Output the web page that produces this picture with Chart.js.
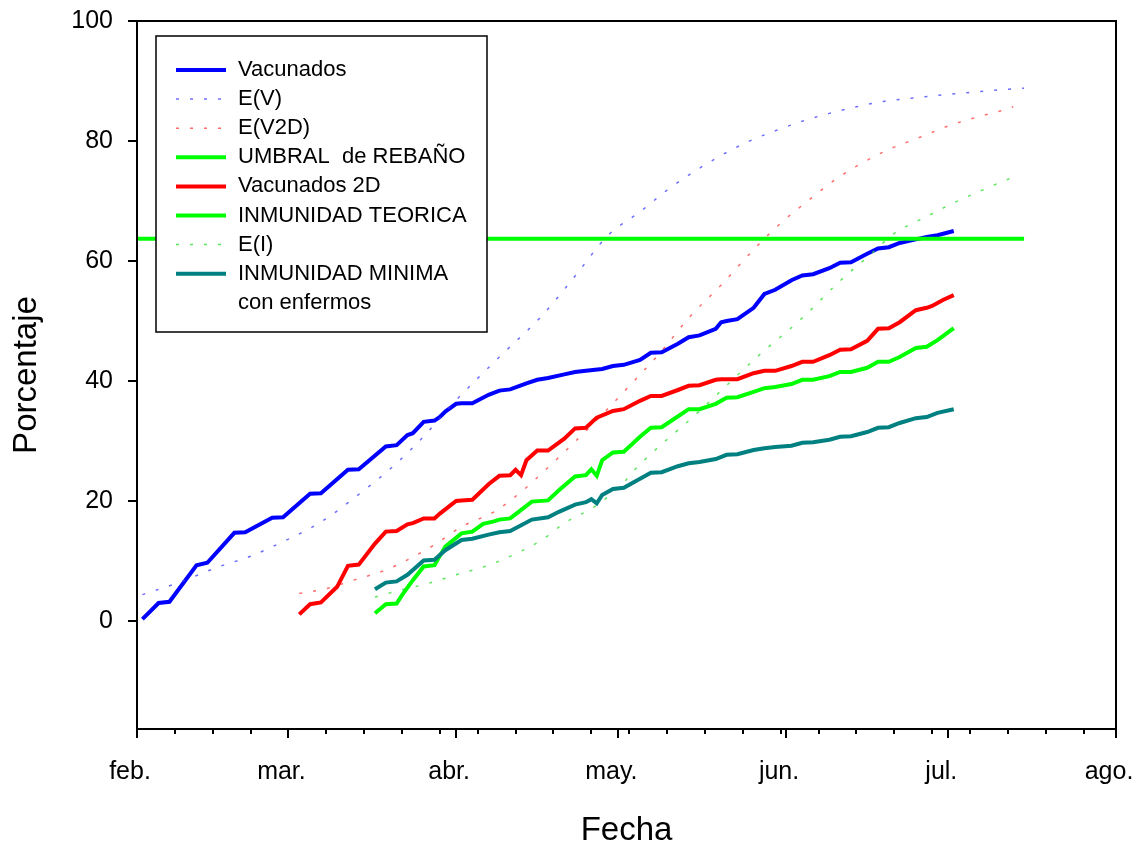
<!DOCTYPE html>
<html lang="es">
<head>
<meta charset="utf-8">
<title>Vacunación e inmunidad</title>
<script src="https://cdn.jsdelivr.net/npm/chart.js@4.4.1/dist/chart.umd.min.js"></script>
<style>
  html, body { margin: 0; padding: 0; background: #fff; }
</style>
</head>
<body>
<canvas id="grafico" width="1140" height="846"></canvas>
<script>
"use strict";
// Eje X en días contados desde el 1 de febrero de 2021
const MESES = ['feb.', 'mar.', 'abr.', 'may.', 'jun.', 'jul.', 'ago.'];
const INICIO_MES = [0, 28, 59, 89, 120, 150, 181];
const TICKS_Y = [0, 20, 40, 60, 80, 100];

const diasVacunados = [1, 4, 6, 11, 13, 18, 20, 25, 27, 32, 34, 39, 41, 46, 48, 50, 51, 53, 55, 56,
  57, 59, 60, 62, 65, 67, 69, 72, 74, 76, 79, 81, 83, 86, 88, 90, 93, 95, 97, 100,
  102, 104, 107, 108, 109, 111, 114, 116, 118, 121, 123, 125, 128, 130, 132, 135, 137, 139, 141, 144,
  146, 148, 151];
const vacunados = [0.3, 3.0, 3.2, 9.3, 9.7, 14.7, 14.8, 17.2, 17.3, 21.2, 21.3, 25.2, 25.3, 29.1, 29.3, 31.0, 31.3, 33.2, 33.4, 34.0,
  34.9, 36.2, 36.3, 36.3, 37.7, 38.4, 38.6, 39.6, 40.2, 40.5, 41.1, 41.5, 41.7, 42.0, 42.5, 42.7, 43.5, 44.7, 44.8, 46.2,
  47.3, 47.6, 48.7, 49.8, 50.0, 50.3, 52.2, 54.5, 55.2, 56.8, 57.6, 57.8, 58.8, 59.7, 59.8, 61.2, 62.1, 62.3, 63.0, 63.6,
  64.0, 64.3, 65.0];

const diasEV = [1, 8, 15, 21, 26, 34, 42, 47, 52, 59, 67, 75, 81, 87, 93, 98, 103, 108, 113, 118,
  123, 128, 133, 138, 144, 149, 154, 159, 164];
const eV = [4.4, 6.5, 9.0, 10.8, 12.8, 16.5, 21.8, 25.5, 29.8, 36.8, 44.0, 51.0, 57.5, 64.2, 68.2, 71.8, 74.9, 77.6, 79.9, 81.7,
  83.3, 84.6, 85.7, 86.6, 87.2, 87.7, 88.1, 88.5, 88.8];

const diasEV2D = [30, 35, 40, 46, 50, 55, 60, 66, 71, 76, 81, 86, 90, 97, 102, 108, 114, 119, 124, 129,
  134, 139, 145, 150, 155, 160, 162];
const eV2D = [4.6, 5.4, 6.8, 8.5, 10.2, 12.7, 15.7, 18.2, 21.5, 25.6, 29.9, 34.4, 38.2, 45.0, 50.5, 56.0, 61.9, 66.3, 70.0, 73.5,
  76.3, 78.6, 80.7, 82.5, 83.9, 85.1, 85.7];

const diasUmbral = [0, 164];
const umbral = [63.7, 63.7];

const diasVac2D = [30, 32, 34, 37, 39, 41, 44, 46, 48, 50, 51, 53, 55, 56, 59, 60, 62, 65, 67, 69,
  70, 71, 72, 74, 76, 79, 81, 83, 85, 88, 90, 93, 95, 97, 100, 102, 104, 107, 108, 111,
  114, 116, 118, 121, 123, 125, 128, 130, 132, 135, 137, 139, 141, 144, 146, 147, 149, 151];
const vacunados2D = [1.1, 2.8, 3.1, 5.7, 9.2, 9.4, 12.9, 14.9, 15.0, 16.1, 16.3, 17.1, 17.1, 17.9, 20.0, 20.1, 20.2, 22.8, 24.2, 24.3,
  25.2, 24.3, 26.8, 28.4, 28.4, 30.4, 32.1, 32.2, 33.9, 35.0, 35.3, 36.7, 37.5, 37.5, 38.5, 39.2, 39.3, 40.2, 40.3, 40.3,
  41.3, 41.7, 41.7, 42.5, 43.2, 43.2, 44.3, 45.2, 45.3, 46.7, 48.7, 48.8, 49.8, 51.8, 52.2, 52.5, 53.5, 54.3];

const diasTeorica = [44, 46, 48, 49, 51, 53, 55, 57, 60, 62, 64, 66, 67, 69, 73, 76, 78, 81, 83, 84,
  85, 86, 88, 90, 93, 95, 97, 99, 102, 104, 107, 109, 111, 114, 116, 118, 121, 123, 125, 128,
  130, 132, 135, 137, 139, 141, 144, 146, 148, 151];
const inmunidadTeorica = [1.3, 2.8, 2.9, 4.3, 6.8, 9.1, 9.3, 12.4, 14.6, 14.9, 16.2, 16.6, 16.9, 17.1, 19.9, 20.1, 21.8, 24.1, 24.3, 25.3,
  24.2, 26.8, 28.1, 28.2, 30.7, 32.2, 32.3, 33.5, 35.3, 35.3, 36.2, 37.2, 37.3, 38.2, 38.8, 39.0, 39.5, 40.2, 40.2, 40.8,
  41.5, 41.5, 42.2, 43.2, 43.2, 44.0, 45.5, 45.7, 46.8, 48.8];

const diasEI = [44, 49, 54, 59, 65, 70, 75, 79, 85, 90, 92, 104, 115, 123, 130, 136, 140, 146, 151, 156,
  161, 163];
const eI = [4.0, 5.2, 6.3, 7.7, 9.3, 11.2, 13.6, 16.3, 19.3, 23.1, 25.2, 35.0, 44.3, 50.5, 56.7, 61.4, 64.6, 67.4, 69.7, 71.7,
  73.6, 74.2];

const diasMinima = [44, 46, 48, 50, 53, 55, 57, 60, 62, 65, 67, 69, 73, 76, 78, 81, 83, 84, 85, 86,
  88, 90, 93, 95, 97, 100, 102, 104, 107, 109, 111, 114, 116, 118, 121, 123, 125, 128, 130, 132,
  135, 137, 139, 141, 144, 146, 148, 151];
const inmunidadMinima = [5.3, 6.4, 6.6, 7.7, 10.1, 10.2, 11.8, 13.5, 13.7, 14.4, 14.8, 15.0, 16.9, 17.3, 18.2, 19.4, 19.8, 20.3, 19.6, 21.0,
  22.0, 22.2, 23.7, 24.7, 24.8, 25.8, 26.3, 26.5, 27.0, 27.7, 27.8, 28.5, 28.8, 29.0, 29.2, 29.7, 29.8, 30.2, 30.7, 30.8,
  31.5, 32.2, 32.3, 33.0, 33.8, 34.0, 34.7, 35.3];

const FUENTE = "'Liberation Sans', Arial, sans-serif";
const PUNTEADO = [3, 11];

function puntos(dias, valores) {
  return dias.map((d, i) => ({ x: d, y: valores[i] }));
}

function serie(label, dias, valores, color, punteada) {
  return {
    label: label,
    data: puntos(dias, valores),
    borderColor: color,
    borderWidth: punteada ? 1.5 : 4,
    borderDash: punteada ? PUNTEADO : [],
    cubicInterpolationMode: punteada ? 'monotone' : 'default',
    tension: 0,
    pointRadius: 0,
    fill: false
  };
}

const datasets = [
  serie('Vacunados', diasVacunados, vacunados, '#0000ff', false),
  serie('E(V)', diasEV, eV, 'rgba(60,60,255,0.75)', true),
  serie('E(V2D)', diasEV2D, eV2D, 'rgba(255,60,60,0.75)', true),
  serie('UMBRAL  de REBAÑO', diasUmbral, umbral, '#00ff00', false),
  serie('Vacunados 2D', diasVac2D, vacunados2D, '#ff0000', false),
  serie('INMUNIDAD TEORICA', diasTeorica, inmunidadTeorica, '#00ff00', false),
  serie('E(I)', diasEI, eI, 'rgba(40,220,40,0.75)', true),
  serie(['INMUNIDAD MINIMA', 'con enfermos'], diasMinima, inmunidadMinima, '#008080', false)
];
// las series posteriores se dibujan encima
datasets.forEach((ds, i) => { ds.order = datasets.length - i; });

// marco completo y marcas de los ejes (mayores en cada mes, menores cada semana)
const marcoPlugin = {
  id: 'marco',
  afterDraw(chart) {
    const { ctx, chartArea: a, scales: { x, y } } = chart;
    ctx.save();
    ctx.strokeStyle = '#000';
    ctx.lineWidth = 2;
    ctx.strokeRect(a.left, a.top, a.right - a.left, a.bottom - a.top);
    ctx.beginPath();
    x.ticks.forEach(t => {
      const px = Math.round(x.getPixelForValue(t.value));
      const largo = INICIO_MES.includes(t.value) ? 9 : 5;
      ctx.moveTo(px, a.bottom);
      ctx.lineTo(px, a.bottom + largo);
    });
    y.ticks.forEach(t => {
      const py = Math.round(y.getPixelForValue(t.value));
      ctx.moveTo(a.left, py);
      ctx.lineTo(a.left - 9, py);
    });
    ctx.stroke();
    ctx.restore();
  }
};

// leyenda en recuadro dentro del área del gráfico
const leyendaPlugin = {
  id: 'leyenda',
  afterDatasetsDraw(chart) {
    const { ctx, chartArea: a } = chart;
    const x0 = a.left + 19, y0 = a.top + 15, w = 331, h = 296;
    ctx.save();
    ctx.fillStyle = '#fff';
    ctx.fillRect(x0, y0, w, h);
    ctx.strokeStyle = '#000';
    ctx.lineWidth = 1.5;
    ctx.strokeRect(x0, y0, w, h);
    ctx.font = '22px ' + FUENTE;
    ctx.textBaseline = 'middle';
    ctx.fillStyle = '#000';
    let fila = 0;
    chart.data.datasets.forEach(ds => {
      const yy = y0 + 34 + fila * 29.1;
      ctx.beginPath();
      ctx.strokeStyle = ds.borderColor;
      ctx.lineWidth = ds.borderWidth;
      ctx.setLineDash(ds.borderDash);
      ctx.moveTo(x0 + 20, yy);
      ctx.lineTo(x0 + 70, yy);
      ctx.stroke();
      ctx.setLineDash([]);
      const lineas = Array.isArray(ds.label) ? ds.label : [ds.label];
      lineas.forEach(txt => {
        ctx.fillText(txt, x0 + 82, y0 + 34 + fila * 29.1);
        fila++;
      });
    });
    ctx.restore();
  }
};

new Chart(document.getElementById('grafico'), {
  type: 'line',
  data: { datasets: datasets },
  plugins: [leyendaPlugin, marcoPlugin],
  options: {
    responsive: false,
    animation: false,
    layout: { padding: { top: 21, right: 24, left: 0, bottom: 0 } },
    plugins: {
      legend: { display: false },
      tooltip: { enabled: false }
    },
    scales: {
      x: {
        type: 'linear',
        min: 0,
        max: 181,
        afterBuildTicks: scale => {
          const valores = new Set(INICIO_MES);
          for (let d = 7; d < 181; d += 7) valores.add(d);
          scale.ticks = [...valores].sort((p, q) => p - q).map(v => ({ value: v }));
        },
        afterFit: scale => {
          scale.height = 117;
          scale.paddingLeft = 0;
          scale.paddingRight = 0;
        },
        grid: { display: false, drawTicks: false },
        border: { display: false },
        ticks: {
          autoSkip: false,
          maxRotation: 0,
          padding: 28,
          labelOffset: -7,
          color: '#000',
          font: { family: FUENTE, size: 25 },
          callback: v => {
            const i = INICIO_MES.indexOf(v);
            return i >= 0 ? MESES[i] : '';
          }
        },
        title: {
          display: true,
          text: 'Fecha',
          color: '#000',
          font: { family: FUENTE, size: 33, lineHeight: 0.9 },
          padding: { top: 0, bottom: 0 }
        }
      },
      y: {
        min: -18,
        max: 100,
        afterBuildTicks: scale => {
          scale.ticks = TICKS_Y.map(v => ({ value: v }));
        },
        afterFit: scale => {
          scale.width = 137;
          scale.paddingTop = 0;
          scale.paddingBottom = 0;
        },
        grid: { display: false, drawTicks: false },
        border: { display: false },
        ticks: {
          padding: 24,
          color: '#000',
          font: { family: FUENTE, size: 25 }
        },
        title: {
          display: true,
          text: 'Porcentaje',
          color: '#000',
          font: { family: FUENTE, size: 33 },
          padding: { top: 7, bottom: 7 }
        }
      }
    }
  }
});
</script>
</body>
</html>
